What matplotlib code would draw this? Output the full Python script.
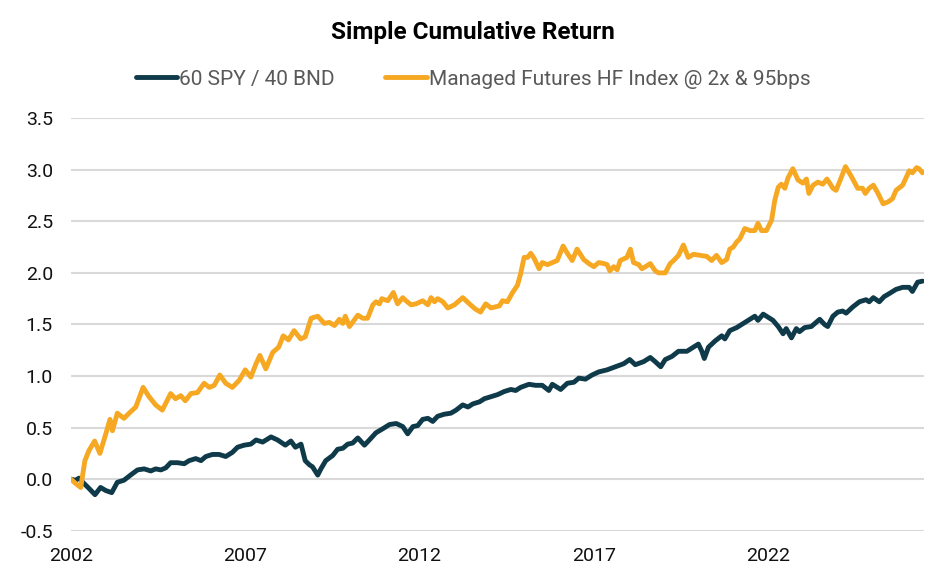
import matplotlib.pyplot as plt
import numpy as np

plt.rcParams['font.family'] = ['Roboto', 'DejaVu Sans']

# 60/40 portfolio (decimal year, cumulative return)
spy_years = [2002.0, 2002.13, 2002.23, 2002.37, 2002.52, 2002.69, 2002.85, 2003.0, 2003.17, 2003.33,
             2003.52, 2003.71, 2003.91, 2004.1, 2004.29, 2004.43, 2004.58, 2004.72, 2004.86, 2005.06,
             2005.25, 2005.39, 2005.58, 2005.73, 2005.87, 2006.06, 2006.25, 2006.44, 2006.63, 2006.78,
             2006.97, 2007.16, 2007.31, 2007.5, 2007.74, 2007.93, 2008.15, 2008.31, 2008.44, 2008.6,
             2008.72, 2008.84, 2008.93, 2009.08, 2009.17, 2009.31, 2009.51, 2009.65, 2009.8, 2009.94,
             2010.08, 2010.23, 2010.42, 2010.56, 2010.75, 2010.95, 2011.14, 2011.33, 2011.52, 2011.66,
             2011.81, 2011.95, 2012.09, 2012.24, 2012.38, 2012.52, 2012.71, 2012.9, 2013.05, 2013.24,
             2013.39, 2013.53, 2013.72, 2013.86, 2014.05, 2014.24, 2014.43, 2014.62, 2014.76, 2014.9,
             2015.14, 2015.33, 2015.52, 2015.71, 2015.81, 2016.05, 2016.24, 2016.43, 2016.57, 2016.76,
             2016.95, 2017.14, 2017.38, 2017.62, 2017.86, 2018.03, 2018.19, 2018.43, 2018.62, 2018.76,
             2018.92, 2019.05, 2019.24, 2019.43, 2019.67, 2019.81, 2020.0, 2020.1, 2020.17, 2020.29,
             2020.48, 2020.67, 2020.76, 2020.9, 2021.1, 2021.29, 2021.48, 2021.62, 2021.71, 2021.86,
             2022.0, 2022.14, 2022.29, 2022.43, 2022.52, 2022.67, 2022.81, 2022.9, 2023.05, 2023.24,
             2023.48, 2023.62, 2023.71, 2023.86, 2024.0, 2024.14, 2024.24, 2024.43, 2024.62, 2024.81,
             2024.9, 2025.02, 2025.19, 2025.33, 2025.48, 2025.67, 2025.86, 2026.05, 2026.14, 2026.29,
             2026.43]
spy_vals = [0.0, -0.01, 0.01, -0.04, -0.09, -0.15, -0.08, -0.11, -0.13, -0.03,
            -0.01, 0.04, 0.09, 0.10, 0.08, 0.10, 0.09, 0.11, 0.16, 0.16,
            0.15, 0.18, 0.20, 0.18, 0.22, 0.24, 0.24, 0.22, 0.26, 0.31,
            0.33, 0.34, 0.38, 0.36, 0.41, 0.38, 0.33, 0.37, 0.31, 0.34,
            0.18, 0.14, 0.12, 0.04, 0.10, 0.18, 0.23, 0.29, 0.30, 0.34,
            0.35, 0.40, 0.33, 0.38, 0.45, 0.49, 0.53, 0.54, 0.51, 0.44,
            0.51, 0.52, 0.58, 0.59, 0.56, 0.61, 0.63, 0.64, 0.67, 0.72,
            0.70, 0.73, 0.75, 0.78, 0.80, 0.82, 0.85, 0.87, 0.86, 0.89,
            0.92, 0.91, 0.91, 0.86, 0.92, 0.87, 0.93, 0.94, 0.98, 0.97,
            1.01, 1.04, 1.06, 1.09, 1.12, 1.16, 1.11, 1.14, 1.18, 1.14,
            1.09, 1.16, 1.19, 1.24, 1.24, 1.27, 1.31, 1.24, 1.17, 1.28,
            1.34, 1.39, 1.36, 1.44, 1.47, 1.51, 1.55, 1.58, 1.54, 1.60,
            1.57, 1.54, 1.48, 1.41, 1.46, 1.37, 1.46, 1.43, 1.47, 1.48,
            1.55, 1.50, 1.48, 1.58, 1.62, 1.63, 1.61, 1.67, 1.72, 1.74,
            1.72, 1.76, 1.72, 1.77, 1.80, 1.84, 1.86, 1.86, 1.82, 1.91,
            1.92]

# managed futures index (decimal year, cumulative return)
mf_years = [2002.0, 2002.13, 2002.28, 2002.4, 2002.52, 2002.68, 2002.83, 2003.0, 2003.12, 2003.19,
            2003.33, 2003.52, 2003.67, 2003.86, 2004.07, 2004.24, 2004.43, 2004.62, 2004.86, 2005.0,
            2005.15, 2005.28, 2005.44, 2005.63, 2005.82, 2005.97, 2006.11, 2006.27, 2006.44, 2006.63,
            2006.83, 2007.0, 2007.16, 2007.31, 2007.42, 2007.59, 2007.79, 2007.96, 2008.09, 2008.24,
            2008.4, 2008.59, 2008.72, 2008.89, 2009.08, 2009.27, 2009.41, 2009.56, 2009.7, 2009.8,
            2009.87, 2009.99, 2010.23, 2010.37, 2010.51, 2010.66, 2010.75, 2010.85, 2010.92, 2011.09,
            2011.25, 2011.37, 2011.52, 2011.61, 2011.76, 2011.9, 2012.09, 2012.24, 2012.33, 2012.43,
            2012.52, 2012.67, 2012.81, 2013.0, 2013.24, 2013.43, 2013.6, 2013.75, 2013.9, 2014.05,
            2014.29, 2014.38, 2014.52, 2014.67, 2014.81, 2014.9, 2015.0, 2015.1, 2015.19, 2015.29,
            2015.43, 2015.52, 2015.67, 2015.81, 2015.95, 2016.12, 2016.24, 2016.38, 2016.52, 2016.71,
            2016.86, 2017.0, 2017.14, 2017.29, 2017.38, 2017.46, 2017.57, 2017.67, 2017.76, 2017.95,
            2018.05, 2018.14, 2018.29, 2018.38, 2018.48, 2018.62, 2018.76, 2018.86, 2019.05, 2019.19,
            2019.29, 2019.43, 2019.57, 2019.71, 2019.86, 2020.05, 2020.24, 2020.38, 2020.52, 2020.67,
            2020.81, 2020.9, 2021.0, 2021.1, 2021.19, 2021.33, 2021.48, 2021.62, 2021.71, 2021.81,
            2021.95, 2022.1, 2022.19, 2022.29, 2022.38, 2022.48, 2022.57, 2022.71, 2022.86, 2023.0,
            2023.1, 2023.17, 2023.29, 2023.43, 2023.57, 2023.69, 2023.86, 2023.95, 2024.07, 2024.22,
            2024.38, 2024.57, 2024.71, 2024.79, 2024.9, 2025.02, 2025.14, 2025.3, 2025.45, 2025.57,
            2025.67, 2025.86, 2026.05, 2026.14, 2026.26, 2026.33, 2026.43]
mf_vals = [0.0, -0.04, -0.08, 0.18, 0.28, 0.37, 0.25, 0.44, 0.58, 0.47,
           0.64, 0.59, 0.64, 0.70, 0.89, 0.80, 0.72, 0.67, 0.83, 0.78,
           0.81, 0.76, 0.83, 0.84, 0.93, 0.89, 0.91, 1.01, 0.93, 0.89,
           0.96, 1.06, 0.99, 1.12, 1.20, 1.07, 1.23, 1.28, 1.39, 1.35,
           1.44, 1.36, 1.38, 1.56, 1.58, 1.51, 1.52, 1.49, 1.55, 1.51,
           1.58, 1.48, 1.59, 1.56, 1.56, 1.69, 1.72, 1.70, 1.75, 1.73,
           1.81, 1.70, 1.76, 1.73, 1.69, 1.70, 1.73, 1.69, 1.76, 1.72,
           1.75, 1.72, 1.66, 1.69, 1.76, 1.70, 1.65, 1.62, 1.70, 1.66,
           1.68, 1.73, 1.72, 1.81, 1.88, 1.99, 2.15, 2.15, 2.19, 2.14,
           2.04, 2.10, 2.08, 2.10, 2.12, 2.26, 2.19, 2.12, 2.23, 2.13,
           2.09, 2.06, 2.10, 2.09, 2.08, 2.02, 2.06, 2.03, 2.12, 2.15,
           2.23, 2.10, 2.08, 2.04, 2.06, 2.09, 2.02, 2.00, 2.00, 2.09,
           2.12, 2.17, 2.27, 2.15, 2.18, 2.17, 2.16, 2.12, 2.17, 2.10,
           2.13, 2.23, 2.25, 2.30, 2.33, 2.43, 2.41, 2.41, 2.48, 2.41,
           2.41, 2.51, 2.70, 2.83, 2.86, 2.82, 2.92, 3.01, 2.90, 2.87,
           2.91, 2.77, 2.85, 2.88, 2.86, 2.91, 2.82, 2.80, 2.90, 3.03,
           2.94, 2.82, 2.82, 2.77, 2.82, 2.85, 2.78, 2.67, 2.69, 2.72,
           2.80, 2.85, 2.99, 2.97, 3.02, 3.01, 2.97]

year_ticks = [2002, 2007, 2012, 2017, 2022]
y_ticks = np.arange(-0.5, 3.51, 0.5)

fig = plt.figure(figsize=(9.46, 5.82), dpi=100)
ax = fig.add_axes([0.075, 0.088, 0.902, 0.709])

ax.plot(spy_years, spy_vals, color='#0f3a4a', lw=3.5, label='60 SPY / 40 BND',
        solid_joinstyle='round', solid_capstyle='round')
ax.plot(mf_years, mf_vals, color='#f6a823', lw=3.5, label='Managed Futures HF Index @ 2x & 95bps',
        solid_joinstyle='round', solid_capstyle='round')

ax.set_xlim(2002, 2026.48)
ax.set_ylim(-0.5, 3.5)
ax.set_xticks(year_ticks)
ax.set_xticklabels([str(y) for y in year_ticks])
ax.set_yticks(y_ticks)
ax.set_yticklabels([f'{v:.1f}' for v in y_ticks])
ax.grid(axis='y', color='#d9d9d9', lw=1.5)
ax.set_axisbelow(True)
for s in ax.spines.values():
    s.set_visible(False)
ax.tick_params(length=0, labelsize=14, colors='#111111')
ax.tick_params(axis='y', pad=13)
ax.tick_params(axis='x', pad=12)

fig.text(0.5, 0.945, 'Simple Cumulative Return', ha='center', va='center',
         fontsize=17.5, fontweight='bold', color='#000000')
fig.legend(loc='center', bbox_to_anchor=(0.5, 0.864), ncol=2, frameon=False,
           fontsize=15, handlelength=2.0, handletextpad=0.1, columnspacing=2.4,
           labelcolor='#595959')

fig.savefig('out.png', dpi=100)
